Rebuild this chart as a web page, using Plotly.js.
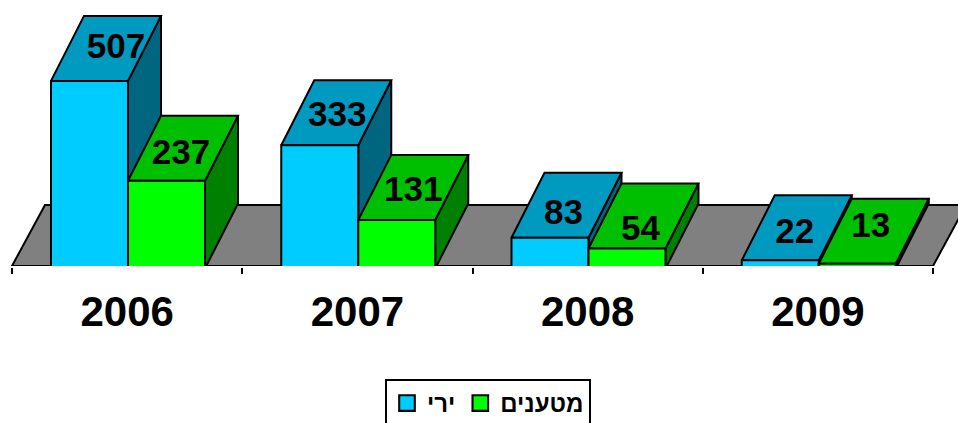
<!DOCTYPE html>
<html><head><meta charset="utf-8">
<script src="https://cdn.plot.ly/plotly-3.0.1.min.js"></script>
<style>html,body{margin:0;padding:0;background:#fff;overflow:hidden}#c{width:958px;height:423px}</style>
</head><body><div id="c"></div>
<script>
// Data
const years = ['2006','2007','2008','2009'];
const seriesNames = ['ירי','מטענים'];
const fire = [507,333,83,22];
const charges = [237,131,54,13];
// Label nudges relative to the centre of each top face (px)
const fireNudge = [[10,1],[1,4],[-3,10],[-2,6]];
const chargeNudge = [[-2,7],[0,5],[-3,15],[-3,-3]];

// Geometry
const W=958,H=423,axisL=12,axisR=933,plotBottom=266;
const pxX=(axisR-axisL)/4, pxY=0.37;
const barW=77/pxX, groupOff=39/pxX, depthX=33/pxX, depthY=65/pxY;
const yLo=(268.5-plotBottom)/pxY, yHi=268.5/pxY;

function faces(vals,left){
  const top={x:[],y:[]},side={x:[],y:[]};
  vals.forEach((v,i)=>{
    const a=left(i),b=a+barW;
    top.x.push(a,a+depthX,b+depthX,b,a,null);
    top.y.push(v,v+depthY,v+depthY,v,v,null);
    side.x.push(b,b+depthX,b+depthX,b,b,null);
    side.y.push(v,v+depthY,depthY,0,v,null);
  });
  return {top,side};
}
const leftA=i=>i+groupOff, leftB=i=>i+groupOff+barW;
const fa=faces(fire,leftA), fb=faces(charges,leftB);
const ln={color:'#000',width:2};
const poly=(d,color,z)=>({type:'scatter',mode:'lines',x:d.x,y:d.y,fill:'toself',fillcolor:color,line:ln,
  showlegend:false,hoverinfo:'skip',zorder:z});
const bar=(vals,left,name,color,z)=>({type:'bar',name,x:vals.map((_,i)=>left(i)+barW/2),y:vals,width:barW,
  marker:{color,line:{color:'#000',width:2}},zorder:z,hoverinfo:'skip'});
const labels=(vals,left,nudge,z)=>({type:'scatter',mode:'text',showlegend:false,hoverinfo:'skip',zorder:z,
  x:vals.map((v,i)=>left(i)+barW/2+depthX/2+nudge[i][0]/pxX),
  y:vals.map((v,i)=>v+depthY/2-nudge[i][1]/pxY),
  text:vals.map(String),textposition:'middle center',
  textfont:{family:'Liberation Sans, Arial, sans-serif',size:35,color:'#000',weight:700}});

const traces=[
  poly(fa.side,'#006680',1),poly(fa.top,'#0099BF',1),
  bar(fire,leftA,seriesNames[0],'#00CCFF',2),
  poly(fb.side,'#008000',3),poly(fb.top,'#00BF00',3),
  bar(charges,leftB,seriesNames[1],'#00FF00',4),
  labels(fire,leftA,fireNudge,5),labels(charges,leftB,chargeNudge,5)
];
const layout={
  width:W,height:H,paper_bgcolor:'#fff',plot_bgcolor:'rgba(0,0,0,0)',
  margin:{l:0,r:0,t:0,b:H-plotBottom,pad:0,autoexpand:false},
  barmode:'overlay',
  font:{family:'Liberation Sans, Arial, sans-serif',color:'#000'},
  xaxis:{domain:[axisL/W,axisR/W],range:[0,4],showgrid:false,zeroline:false,showline:true,linecolor:'#000',linewidth:2,
    tickmode:'array',tickvals:years.map((_,i)=>i+0.5),ticktext:years,ticks:'',ticklabelstandoff:8,
    tickfont:{size:42,weight:700,family:'Liberation Sans, Arial, sans-serif',color:'#000'},
    minor:{tickmode:'array',tickvals:[0,1,2,3,4],ticks:'outside',ticklen:6,tickwidth:2,tickcolor:'#000',showgrid:false}},
  yaxis:{range:[yLo,yHi],visible:false,fixedrange:true},
  shapes:[{type:'path',xref:'paper',yref:'y',layer:'below',
    path:`M ${axisL/W} ${yLo} L ${(axisL+33)/W} ${yLo+61/pxY} L ${(axisR+33)/W} ${yLo+61/pxY} L ${axisR/W} ${yLo} Z`,
    fillcolor:'#808080',line:ln}],
  legend:{orientation:'h',x:488/W,xanchor:'center',y:-(379-plotBottom)/(plotBottom),yanchor:'top',
    bgcolor:'#fff',bordercolor:'#000',borderwidth:2,font:{size:24,weight:700,family:'Liberation Sans, Arial, sans-serif',color:'#000'},
    traceorder:'normal'},
  showlegend:true
};
Plotly.newPlot('c',traces,layout,{displayModeBar:false,staticPlot:true}).then(()=>{
  document.querySelectorAll('.legendpoints path').forEach(p=>{
    p.setAttribute('transform',(p.getAttribute('transform')||'')+' scale(1.3)');
    p.style.strokeWidth='1.6px';
  });
});
</script></body></html>
